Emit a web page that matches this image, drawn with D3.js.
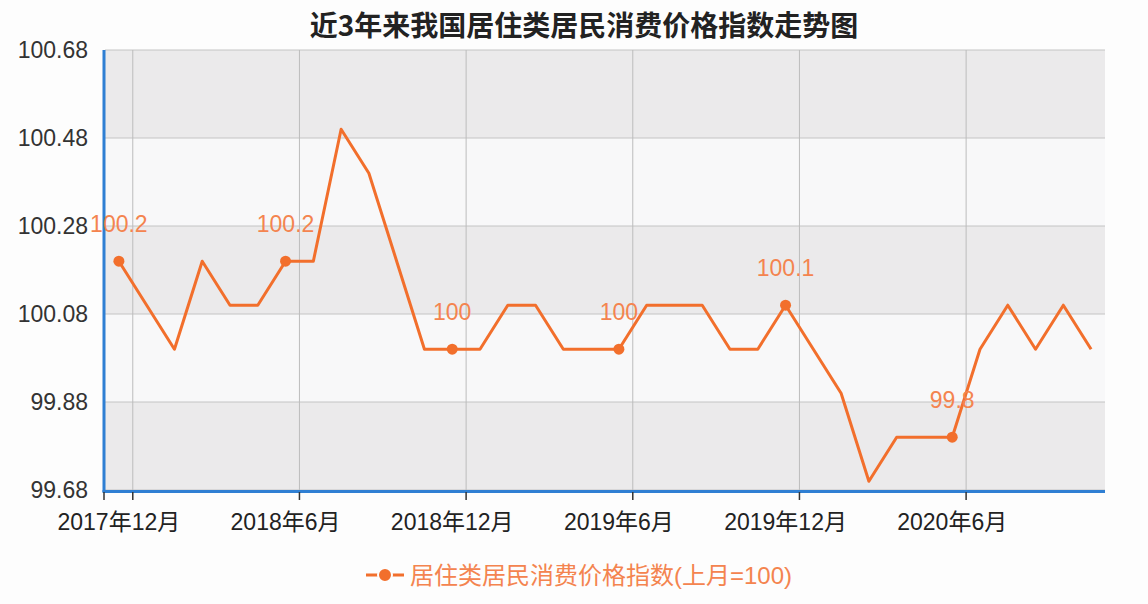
<!DOCTYPE html>
<html>
<head>
<meta charset="utf-8">
<title>近3年来我国居住类居民消费价格指数走势图</title>
<style>
  body { margin: 0; background: #fdfdfd; font-family: 'Liberation Sans', 'Noto Sans CJK SC', sans-serif; }
  text { pointer-events: none; }
</style>
<script src="https://d3js.org/d3.v7.min.js"></script>
</head>
<body>
<div id="chart"></div>
<script>
// ******* Data *******
const months = [
  "2017年12月", "2018年1月", "2018年2月", "2018年3月", "2018年4月", "2018年5月",
  "2018年6月", "2018年7月", "2018年8月", "2018年9月", "2018年10月", "2018年11月",
  "2018年12月", "2019年1月", "2019年2月", "2019年3月", "2019年4月", "2019年5月",
  "2019年6月", "2019年7月", "2019年8月", "2019年9月", "2019年10月", "2019年11月",
  "2019年12月", "2020年1月", "2020年2月", "2020年3月", "2020年4月", "2020年5月",
  "2020年6月", "2020年7月", "2020年8月", "2020年9月", "2020年10月", "2020年11月"
];
const values = [
  100.2, 100.1, 100.0, 100.2, 100.1, 100.1,
  100.2, 100.2, 100.5, 100.4, 100.2, 100.0,
  100.0, 100.0, 100.1, 100.1, 100.0, 100.0,
  100.0, 100.1, 100.1, 100.1, 100.0, 100.0,
  100.1, 100.0, 99.9, 99.7, 99.8, 99.8,
  99.8, 100.0, 100.1, 100.0, 100.1, 100.0
];
const yTicks = [99.68, 99.88, 100.08, 100.28, 100.48, 100.68];
const seriesName = "居住类居民消费价格指数(上月=100)";

// ******* Constants *******
const width = 1148, height = 604;
const plotLeft = 105, plotRight = 1105, plotTop = 50, plotBottom = 490;
const orange = "#f26f2c", labelOrange = "#f4844f", blue = "#2f7fd3";

const svg = d3.select("#chart").append("svg")
    .attr("width", width)
    .attr("height", height)
    .style("display", "block");

// ******* Scales *******
const x = d3.scaleBand().domain(months).range([plotLeft, plotRight]).padding(0);
const y = d3.scaleLinear().domain([99.68, 100.68]).range([plotBottom, plotTop]);
const cx = d => x(d) + x.bandwidth() / 2;

// split areas (alternating bands)
for (let i = 0; i < yTicks.length - 1; i++) {
  svg.append("rect")
      .attr("x", plotLeft)
      .attr("y", y(yTicks[i + 1]))
      .attr("width", plotRight - plotLeft)
      .attr("height", y(yTicks[i]) - y(yTicks[i + 1]))
      .attr("fill", i % 2 === 0 ? "#ebeaeb" : "#f8f8f9");
}

// horizontal grid
svg.selectAll(".hgrid")
    .data(yTicks)
    .enter().append("line")
    .attr("x1", plotLeft).attr("x2", plotRight)
    .attr("y1", d => y(d)).attr("y2", d => y(d))
    .attr("stroke", "#c4c4c4").attr("stroke-width", 1);

// vertical grid at category boundaries (every 6 months)
const gridIdx = months.map((d, i) => i).filter(i => i % 6 === 1);
svg.selectAll(".vgrid")
    .data(gridIdx)
    .enter().append("line")
    .attr("x1", i => x(months[i])).attr("x2", i => x(months[i]))
    .attr("y1", plotTop).attr("y2", plotBottom)
    .attr("stroke", "#bdbdbd").attr("stroke-width", 1);

// y axis labels
svg.selectAll(".ylab")
    .data(yTicks)
    .enter().append("text")
    .attr("x", 88)
    .attr("y", d => y(d))
    .attr("dy", "0.36em")
    .attr("text-anchor", "end")
    .attr("font-size", 23)
    .attr("fill", "#333")
    .text(d => d.toFixed(2));

// axis lines
svg.append("line")
    .attr("x1", plotLeft - 1).attr("x2", plotLeft - 1)
    .attr("y1", plotTop).attr("y2", plotBottom + 2)
    .attr("stroke", blue).attr("stroke-width", 3);
svg.append("line")
    .attr("x1", plotLeft - 2.5).attr("x2", plotRight)
    .attr("y1", plotBottom + 1.5).attr("y2", plotBottom + 1.5)
    .attr("stroke", blue).attr("stroke-width", 3);

// x ticks
const tickIdx = [0].concat(gridIdx);
svg.selectAll(".xtick")
    .data(tickIdx)
    .enter().append("line")
    .attr("x1", i => i === 0 ? plotLeft - 1 : x(months[i]))
    .attr("x2", i => i === 0 ? plotLeft - 1 : x(months[i]))
    .attr("y1", plotBottom + 2).attr("y2", plotBottom + 10)
    .attr("stroke", "#333").attr("stroke-width", 1.5);

// x labels every 6 months
svg.selectAll(".xlab")
    .data(months.filter((d, i) => i % 6 === 0))
    .enter().append("text")
    .attr("x", d => cx(d))
    .attr("y", 530)
    .attr("text-anchor", "middle")
    .attr("font-size", 23)
    .attr("fill", "#222")
    .text(d => d);

// ******* Line *******
const line = d3.line()
    .x((d, i) => cx(months[i]))
    .y(d => y(d));

svg.append("path")
    .datum(values)
    .attr("d", line)
    .attr("fill", "none")
    .attr("stroke", orange)
    .attr("stroke-width", 3)
    .attr("stroke-linejoin", "round");

// symbols + labels on every 6th point
const shown = values.map((v, i) => ({v: v, i: i})).filter(d => d.i % 6 === 0);
svg.selectAll(".dot")
    .data(shown)
    .enter().append("circle")
    .attr("cx", d => cx(months[d.i]))
    .attr("cy", d => y(d.v))
    .attr("r", 5.5)
    .attr("fill", orange);

svg.selectAll(".vlab")
    .data(shown)
    .enter().append("text")
    .attr("x", d => cx(months[d.i]))
    .attr("y", d => y(d.v) - 29)
    .attr("text-anchor", "middle")
    .attr("font-size", 23)
    .attr("fill", labelOrange)
    .text(d => String(d.v));

// ******* Title *******
svg.append("text")
    .attr("x", 584)
    .attr("y", 36)
    .attr("text-anchor", "middle")
    .attr("font-family", "'Noto Sans CJK SC', sans-serif")
    .attr("font-size", 28)
    .attr("font-weight", "bold")
    .attr("fill", "#222")
    .text("近3年来我国居住类居民消费价格指数走势图");

// ******* Legend *******
const lg = svg.append("g").attr("transform", "translate(366,575)");
lg.append("line")
    .attr("x1", 0).attr("x2", 38)
    .attr("y1", 0).attr("y2", 0)
    .attr("stroke", orange).attr("stroke-width", 3);
lg.append("circle")
    .attr("cx", 19).attr("cy", 0).attr("r", 7)
    .attr("fill", orange)
    .attr("stroke", "#fdfdfd").attr("stroke-width", 2);
lg.append("text")
    .attr("x", 44)
    .attr("y", 0)
    .attr("dy", "0.36em")
    .attr("font-size", 24)
    .attr("fill", labelOrange)
    .text(seriesName);
</script>
</body>
</html>
